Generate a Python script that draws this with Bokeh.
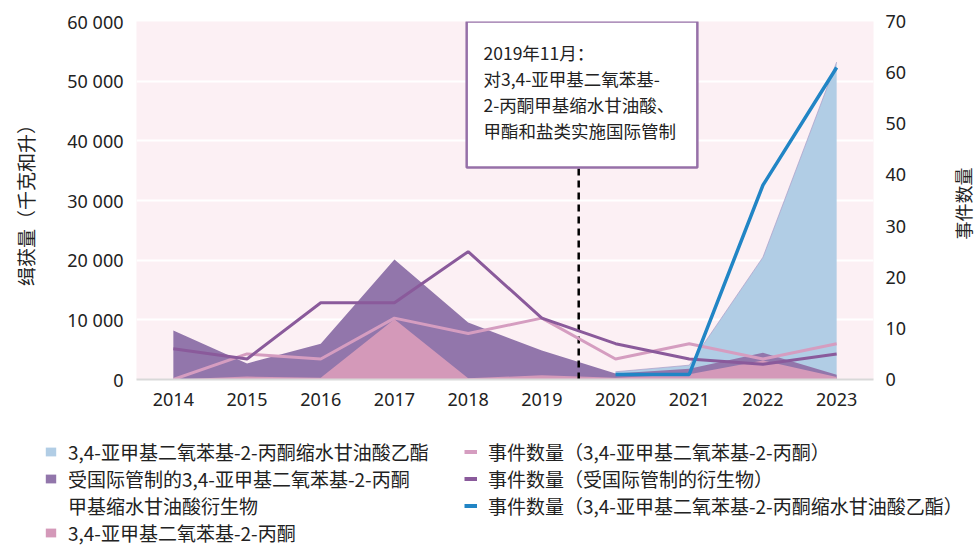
import math
from bokeh.plotting import figure
from bokeh.layouts import column, row
from bokeh.models import (Range1d, LinearAxis, Legend, LegendItem, Label,
                          BoxAnnotation, FixedTicker)
from bokeh.embed import file_html
from bokeh.resources import INLINE

# ---------------- data ----------------
years = [2014, 2015, 2016, 2017, 2018, 2019, 2020, 2021, 2022, 2023]
glyc_years = [2020, 2021, 2022, 2023]

# seizures (kg and litres), left axis
glycidate_ethyl_kg = [1300, 2400, 20500, 53200]
derivatives_kg = [8200, 2700, 6000, 20100, 9550, 4860, 1000, 1800, 4500, 800]
mdp2p_kg = [0, 500, 300, 10100, 200, 700, 300, 900, 3200, 400]

# number of incidents, right axis
mdp2p_incidents = [0, 5, 4, 12, 9, 12, 4, 7, 4, 7]
derivatives_incidents = [6, 4, 15, 15, 25, 12, 7, 4, 3, 5]
glycidate_incidents = [1, 1, 38, 61]

left_ticks = [0, 10000, 20000, 30000, 40000, 50000, 60000]
left_tick_labels = ["0", "10 000", "20 000", "30 000", "40 000", "50 000", "60 000"]
right_ticks = [0, 10, 20, 30, 40, 50, 60, 70]
year_labels = [str(y) for y in years]

left_axis_title = "缉获量（千克和升）"
right_axis_title = "事件数量"
series_names = [
    "3,4-亚甲基二氧苯基-2-丙酮缩水甘油酸乙酯",
    "受国际管制的3,4-亚甲基二氧苯基-2-丙酮",
    "甲基缩水甘油酸衍生物",
    "3,4-亚甲基二氧苯基-2-丙酮",
    "事件数量（3,4-亚甲基二氧苯基-2-丙酮）",
    "事件数量（受国际管制的衍生物）",
    "事件数量（3,4-亚甲基二氧苯基-2-丙酮缩水甘油酸乙酯）",
]
note_lines = ["2019年11月：", "对3,4-亚甲基二氧苯基-", "2-丙酮甲基缩水甘油酸、", "甲酯和盐类实施国际管制"]
event_x = 2019.5
note_box = dict(left=2017.98, right=2021.11, bottom=35530, top=60000)

# ---------------- styles ----------------
CJK = "Noto Sans CJK SC"
NUM = "Noto Sans"
TXT = "#222222"
C_BLUE_A = "#b1cde5"
C_PURP_A = "#9276ab"
C_PINK_A = "#d499b9"
C_BLUE_L = "#2185c5"
C_PURP_L = "#8a5a9b"
C_PINK_L = "#d59dc0"

W = 979
W_SIDE = 40
H_MAIN = 430
H_LEG = 547 - H_MAIN

p = figure(width=W - W_SIDE, height=H_MAIN, output_backend="svg", toolbar_location=None,
           x_range=Range1d(2013.5, 2023.5), y_range=Range1d(0, 60000),
           min_border_left=136, min_border_right=W - W_SIDE - 873, min_border_top=21,
           min_border_bottom=H_MAIN - 379)
p.extra_y_ranges = {"right": Range1d(0, 70)}
p.background_fill_color = "#fcf0f4"
p.border_fill_color = "white"
p.outline_line_color = None
p.xgrid.visible = False
p.ygrid.grid_line_color = "white"
p.ygrid.grid_line_width = 2
p.ygrid.ticker = FixedTicker(ticks=left_ticks)

# areas
p.varea(x=glyc_years, y1=0, y2=glycidate_ethyl_kg, fill_color=C_BLUE_A)
p.line(glyc_years, glycidate_ethyl_kg, line_color="#a99cc8", line_width=1, line_alpha=0.7)
p.varea(x=years, y1=0, y2=derivatives_kg, fill_color=C_PURP_A)
p.varea(x=years, y1=0, y2=mdp2p_kg, fill_color=C_PINK_A)

# event marker
p.segment(x0=[event_x], y0=[0], x1=[event_x], y1=[note_box["bottom"]],
          line_color="black", line_width=2.5, line_dash="7 5")

# lines
p.line(years, mdp2p_incidents, y_range_name="right", line_color=C_PINK_L, line_width=3)
p.line(years, derivatives_incidents, y_range_name="right", line_color=C_PURP_L, line_width=3)
p.line(glyc_years, glycidate_incidents, y_range_name="right", line_color=C_BLUE_L, line_width=3.5)

p.add_layout(BoxAnnotation(**note_box, fill_color="white", fill_alpha=1.0,
                           line_color="#9670a8", line_alpha=1.0, line_width=2.5))
for i, t in enumerate(note_lines):
    p.add_layout(Label(x=347, y=327 - 26 * i, x_units="screen", y_units="screen", text=t,
                       text_align="left", text_baseline="middle",
                       text_font=CJK, text_font_size="17.5px", text_color=TXT))

# axes
def style_axis(ax, standoff):
    ax.major_tick_line_color = None
    ax.minor_tick_line_color = None
    ax.major_tick_out = 0
    ax.major_tick_in = 0
    ax.minor_tick_out = 0
    ax.minor_tick_in = 0
    ax.major_label_standoff = standoff
    ax.major_label_text_font = NUM
    ax.major_label_text_font_size = "18px"
    ax.major_label_text_color = TXT
    ax.axis_label_text_font = CJK
    ax.axis_label_text_font_style = "normal"
    ax.axis_label_text_color = TXT

xa = p.xaxis[0]
style_axis(xa, 13)
xa.ticker = FixedTicker(ticks=years)
xa.major_label_overrides = dict(zip(years, year_labels))
xa.axis_line_color = "#d9d9d9"
xa.axis_line_width = 2

ya = p.yaxis[0]
style_axis(ya, 13)
ya.ticker = FixedTicker(ticks=left_ticks)
ya.major_label_overrides = dict(zip(left_ticks, left_tick_labels))
ya.axis_line_color = None
ya.axis_label = left_axis_title
ya.axis_label_text_font_size = "19px"
ya.axis_label_standoff = 25

ry = LinearAxis(y_range_name="right", ticker=FixedTicker(ticks=right_ticks))
style_axis(ry, 12)
ry.axis_line_color = None
p.add_layout(ry, "right")

# ---------------- right-axis title strip ----------------
s = figure(width=W_SIDE, height=H_MAIN, output_backend="svg", toolbar_location=None,
           x_range=Range1d(0, W_SIDE), y_range=Range1d(0, H_MAIN),
           min_border_left=0, min_border_right=0, min_border_top=0, min_border_bottom=0)
s.axis.visible = False
s.grid.visible = False
s.outline_line_color = None
s.background_fill_color = "white"
s.border_fill_color = "white"
s.add_layout(Label(x=23, y=H_MAIN - 203, text=right_axis_title, angle=math.pi / 2,
                   text_align="center", text_baseline="middle",
                   text_font=CJK, text_font_size="18px", text_color=TXT))

# ---------------- legend panel ----------------
q = figure(width=W, height=H_LEG, output_backend="svg", toolbar_location=None,
           x_range=Range1d(0, W), y_range=Range1d(0, H_LEG),
           min_border_left=0, min_border_right=0, min_border_top=0, min_border_bottom=0)
q.axis.visible = False
q.grid.visible = False
q.outline_line_color = None
q.background_fill_color = "white"
q.border_fill_color = "white"
for fig in (p, s, q):
    try:
        fig.frame_align = False
    except Exception:
        pass

# legend proxies: same series, they fall outside this panel's visible range
lg_blue_a = q.varea(x=glyc_years, y1=0, y2=glycidate_ethyl_kg, fill_color=C_BLUE_A)
lg_purp_a = q.varea(x=years, y1=0, y2=derivatives_kg, fill_color=C_PURP_A)
lg_blank = q.line(x=[], y=[], line_alpha=0)
lg_pink_a = q.varea(x=years, y1=0, y2=mdp2p_kg, fill_color=C_PINK_A)
lg_pink_l = q.line(years, mdp2p_incidents, line_color=C_PINK_L, line_width=4)
lg_purp_l = q.line(years, derivatives_incidents, line_color=C_PURP_L, line_width=4)
lg_blue_l = q.line(glyc_years, glycidate_incidents, line_color=C_BLUE_L, line_width=4)

legend = Legend(
    items=[LegendItem(label=series_names[0], renderers=[lg_blue_a]),
           LegendItem(label=series_names[1], renderers=[lg_purp_a]),
           LegendItem(label=series_names[2], renderers=[lg_blank]),
           LegendItem(label=series_names[3], renderers=[lg_pink_a]),
           LegendItem(label=series_names[4], renderers=[lg_pink_l]),
           LegendItem(label=series_names[5], renderers=[lg_purp_l]),
           LegendItem(label=series_names[6], renderers=[lg_blue_l])],
    orientation="vertical", nrows=4, location=(44, 1),
    glyph_width=13, glyph_height=11, label_standoff=11, label_width=396,
    label_height=26, spacing=0, padding=0, margin=0,
    background_fill_alpha=0, border_line_alpha=0,
    label_text_font=CJK, label_text_font_size="19px", label_text_color=TXT)
q.add_layout(legend)

layout = column(row(p, s, spacing=0), q, spacing=0)
open("out.html", "w").write(file_html(layout, INLINE))
